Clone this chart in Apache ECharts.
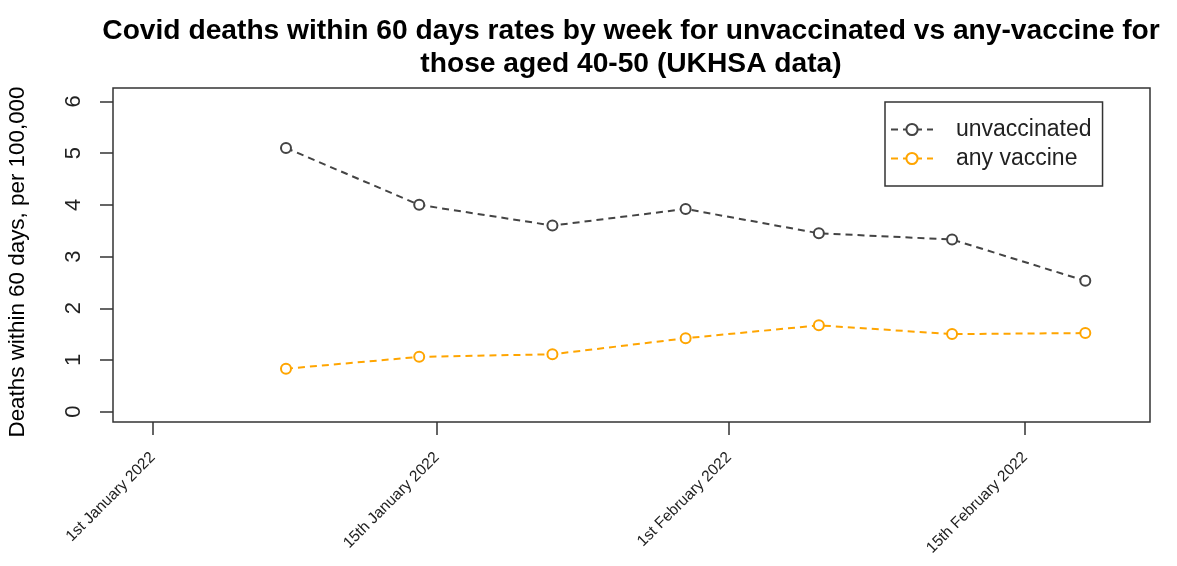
<!DOCTYPE html>
<html>
<head>
<meta charset="utf-8">
<script src="https://cdn.jsdelivr.net/npm/echarts@6/dist/echarts.min.js"></script>
<style>
html,body{margin:0;padding:0;background:#fff;}
#chart{width:1177px;height:566px;}
</style>
</head>
<body>
<div id="chart"></div>
<script>
// Days since 1 January 2022 for each weekly point
const weekDays = [7, 14, 21, 28, 35, 42, 49];
const unvaccinated = [5.10, 4.00, 3.60, 3.92, 3.45, 3.33, 2.53];
const anyVaccine = [0.83, 1.06, 1.11, 1.42, 1.67, 1.50, 1.52];
// x-axis tick positions (days since 1 Jan 2022) and their labels
const xTickValues = [0, 14.93, 30.28, 45.83];
const xTickLabels = ['1st January 2022', '15th January 2022', '1st February 2022', '15th February 2022'];
const yTickValues = [0, 1, 2, 3, 4, 5, 6];

const FONT = "'Liberation Sans', Arial, Helvetica, sans-serif";
const chart = echarts.init(document.getElementById('chart'), null, {renderer: 'canvas'});

const labelMap = {};
xTickValues.forEach((v, i) => { labelMap[v] = xTickLabels[i]; });

chart.setOption({
  animation: false,
  backgroundColor: '#fff',
  title: {
    text: 'Covid deaths within 60 days rates by week for unvaccinated vs any-vaccine for\nthose aged 40-50 (UKHSA data)',
    left: 626,
    top: 9.5,
    textAlign: 'center',
    textStyle: {fontFamily: FONT, fontSize: 28.2, fontWeight: 'bold', color: '#000', lineHeight: 33}
  },
  legend: {
    orient: 'vertical',
    left: 885,
    top: 102,
    padding: [16, 11, 16, 5],
    itemGap: 6,
    itemWidth: 42,
    itemHeight: 14,
    borderColor: '#333',
    borderWidth: 1.5,
    textStyle: {fontFamily: FONT, fontSize: 23, color: '#222', lineHeight: 22, padding: [0, 0, 0, 18]},
    data: ['unvaccinated', 'any vaccine']
  },
  grid: {
    left: 113, right: 27, top: 88, bottom: 144,
    containLabel: false,
    outerBoundsMode: 'none',
    show: true, borderColor: '#333', borderWidth: 1.5, backgroundColor: 'transparent'
  },
  xAxis: {
    type: 'value',
    min: -2.09,
    max: 52.4,
    splitLine: {show: false},
    axisLine: {show: false, onZero: false},
    axisTick: {show: true, inside: false, length: 13, lineStyle: {color: '#333', width: 1.5}, customValues: xTickValues},
    axisLabel: {
      customValues: xTickValues,
      rotate: 45,
      margin: 33,
      padding: [24, 0, 0, 0],
      fontFamily: FONT, fontSize: 15.5, color: '#222',
      formatter: (v) => labelMap[v] || ''
    }
  },
  yAxis: {
    type: 'value',
    min: -0.2,
    max: 6.26,
    splitLine: {show: false},
    axisLine: {show: false, onZero: false},
    axisTick: {show: true, inside: false, length: 13, lineStyle: {color: '#333', width: 1.5}, customValues: yTickValues},
    axisLabel: {
      customValues: yTickValues,
      rotate: 90,
      margin: 28,
      fontFamily: FONT, fontSize: 22, color: '#222'
    },
    name: 'Deaths within 60 days, per 100,000',
    nameLocation: 'middle',
    nameGap: 84,
    nameTextStyle: {fontFamily: FONT, fontSize: 22.4, color: '#000', padding: [0, 14, 0, 0]}
  },
  series: [
    {
      name: 'unvaccinated',
      type: 'line',
      data: weekDays.map((d, i) => [d, unvaccinated[i]]),
      symbol: 'emptyCircle',
      symbolSize: 10,
      color: '#444',
      lineStyle: {color: '#444', width: 2, type: [7, 5]},
      itemStyle: {color: '#444', borderColor: '#444', borderWidth: 2}
    },
    {
      name: 'any vaccine',
      type: 'line',
      data: weekDays.map((d, i) => [d, anyVaccine[i]]),
      symbol: 'emptyCircle',
      symbolSize: 10,
      color: '#FFA500',
      lineStyle: {color: '#FFA500', width: 2, type: [7, 5]},
      itemStyle: {color: '#FFA500', borderColor: '#FFA500', borderWidth: 2}
    }
  ]
});
</script>
</body>
</html>
